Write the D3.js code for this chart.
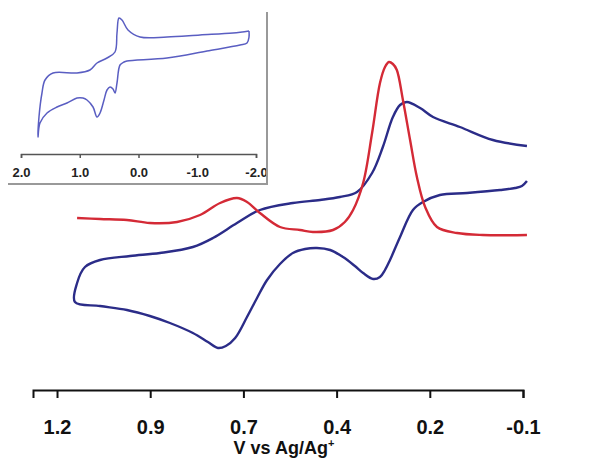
<!doctype html>
<meta charset="utf-8">
<script src="https://d3js.org/d3.v7.min.js"></script>
<style>
  body { margin: 0; background: #fff; }
  text { font-family: "Liberation Sans", Arial, sans-serif; font-weight: bold; }
</style>
<body></body>
<script>

var width = 595;
var height = 464;

// main plot: potential (V vs Ag/Ag+) and current (arbitrary units)
var tickValues = [1.2, 0.94, 0.68, 0.42, 0.16, -0.1];
var tickLabels = ["1.2", "0.9", "0.7", "0.4", "0.2", "-0.1"];

// blue CV, top branch from left vertex to right end
var cvTop = [[1.150,8.3],[1.144,10.2],[1.122,11.8],[1.080,12.5],[0.996,12.9],[0.913,13.2],[0.821,13.8],
  [0.765,14.7],[0.698,16.2],[0.634,17.5],[0.542,18.2],[0.466,18.5],[0.411,18.8],[0.363,19.3],[0.321,21.2],
  [0.291,23.8],[0.263,26.8],[0.243,28.0],[0.224,28.3],[0.187,27.7],[0.151,26.8],[0.076,25.8],[-0.016,24.5],[-0.111,23.9]];

// blue CV, bottom branch from left vertex to right end
var cvBottom = [[1.150,8.3],[1.080,7.9],[1.005,7.5],[0.941,6.9],[0.885,6.2],[0.821,5.2],[0.779,4.3],[0.751,3.7],
  [0.729,3.9],[0.703,4.7],[0.670,6.8],[0.642,8.7],[0.614,10.5],[0.578,12.1],[0.542,13.2],[0.508,13.6],[0.475,13.7],
  [0.438,13.5],[0.402,12.8],[0.369,11.9],[0.346,11.2],[0.318,10.6],[0.299,10.8],[0.285,11.5],[0.271,12.5],
  [0.243,14.8],[0.207,17.5],[0.179,18.3],[0.132,19.0],[0.056,19.2],[-0.036,19.5],[-0.078,19.7],[-0.097,19.9],[-0.111,20.4]];

// red trace
var redTrace = [[1.144,16.7],[1.080,16.6],[1.005,16.5],[0.941,16.2],[0.865,16.3],[0.801,17.0],[0.745,18.2],
  [0.698,18.7],[0.670,18.3],[0.634,17.2],[0.578,15.8],[0.522,15.5],[0.486,15.3],[0.430,15.5],[0.397,16.3],
  [0.374,17.5],[0.346,20.2],[0.321,25.2],[0.299,30.2],[0.285,31.8],[0.274,32.3],[0.263,32.1],[0.252,31.5],
  [0.235,28.5],[0.215,24.5],[0.196,20.8],[0.173,17.8],[0.140,15.8],[0.084,15.2],[0.012,15.0],[-0.111,15.0]];

// inset: wide-window CV
var insetTicks = [2, 1, 0, -1, -2];
var insetLabels = ["2.0", "1.0", "0.0", "-1.0", "-2.0"];
var insetCV = [[-1.881,11.9],[-1.609,11.7],[-1.047,11.5],[-0.485,11.3],[-0.026,11.3],[0.179,12.0],[0.281,13.0],
  [0.332,13.2],[0.366,11.7],[0.400,9.8],[0.536,9.2],[0.706,8.7],[0.826,8.0],[1.047,7.7],[1.455,7.7],[1.591,7.0],
  [1.643,5.7],[1.694,3.3],[1.711,1.3],[1.677,2.7],[1.557,3.7],[1.387,4.3],[1.217,4.7],[1.047,5.2],[0.945,5.2],
  [0.877,5.0],[0.774,4.3],[0.706,3.3],[0.655,3.7],[0.587,5.0],[0.536,6.0],[0.485,6.3],[0.434,6.1],[0.400,5.7],
  [0.366,6.7],[0.315,8.5],[0.247,8.8],[0.196,8.9],[-0.485,9.2],[-1.166,9.9],[-1.728,10.5],[-1.847,10.7],
  [-1.881,11.3],[-1.881,11.9]];

var svg = d3.select("body")
        .append("svg")
        .attr("width", width)
        .attr("height", height);

var x = d3.scaleLinear().domain([1.267, -0.1]).range([33, 523]);
var y = d3.scaleLinear().domain([0, 35]).range([385, 35]);

var line = d3.line()
        .x(function(d) { return x(d[0]); })
        .y(function(d) { return y(d[1]); })
        .curve(d3.curveCatmullRom.alpha(0.5));

var navy = "#2b2c88";
var red = "#d42a36";

svg.append("path")
        .attr("d", line(cvTop.slice().reverse().concat(cvBottom.slice(1))))
        .style("fill", "none")
        .style("stroke", navy)
        .style("stroke-width", 2.4);

svg.append("path")
        .attr("d", line(redTrace))
        .style("fill", "none")
        .style("stroke", red)
        .style("stroke-width", 2.4);

var xAxis = svg.append("g")
        .attr("transform", "translate(0,390)")
        .call(d3.axisBottom(x)
            .tickValues(tickValues)
            .tickFormat(function(d, i) { return tickLabels[i]; })
            .tickSizeOuter(0)
            .tickSize(8)
            .tickPadding(22));

xAxis.select(".domain").style("stroke", "#111").style("stroke-width", 2);
xAxis.selectAll(".tick line").style("stroke", "#111").style("stroke-width", 2);
xAxis.selectAll(".tick text")
        .style("font-size", "20px")
        .style("font-family", "Liberation Sans, Arial, sans-serif")
        .style("font-weight", "bold")
        .style("fill", "#111");

var title = svg.append("text")
        .attr("x", 284)
        .attr("y", 454)
        .attr("text-anchor", "middle")
        .style("font-size", "18px")
        .style("fill", "#111");
title.append("tspan").text("V vs Ag/Ag");
title.append("tspan").attr("dy", -7).style("font-size", "11px").text("+");

// inset
var ix = d3.scaleLinear().domain([2, -2]).range([21, 256]);
var iy = d3.scaleLinear().domain([0, 14]).range([150, 10]);

var insetLine = d3.line()
        .x(function(d) { return ix(d[0]); })
        .y(function(d) { return iy(d[1]); })
        .curve(d3.curveCatmullRom.alpha(0.5));

svg.append("path")
        .attr("d", insetLine(insetCV))
        .style("fill", "none")
        .style("stroke", "#5a5ec2")
        .style("stroke-width", 1.5);

var insetAxis = svg.append("g")
        .attr("transform", "translate(0,154)")
        .call(d3.axisBottom(ix)
            .tickValues(insetTicks)
            .tickFormat(function(d, i) { return insetLabels[i]; })
            .tickSizeOuter(0)
            .tickSize(4)
            .tickPadding(10));

insetAxis.select(".domain").style("stroke", "#555").style("stroke-width", 1.5);
insetAxis.selectAll(".tick line").style("stroke", "#555").style("stroke-width", 1.5);
insetAxis.selectAll(".tick text")
        .style("font-size", "13px")
        .style("font-family", "Liberation Sans, Arial, sans-serif")
        .style("font-weight", "bold")
        .style("fill", "#222");

// inset frame (right and bottom edges)
svg.append("path")
        .attr("d", "M8,184H267V12")
        .style("fill", "none")
        .style("stroke", "#999")
        .style("stroke-width", 2);

</script>
